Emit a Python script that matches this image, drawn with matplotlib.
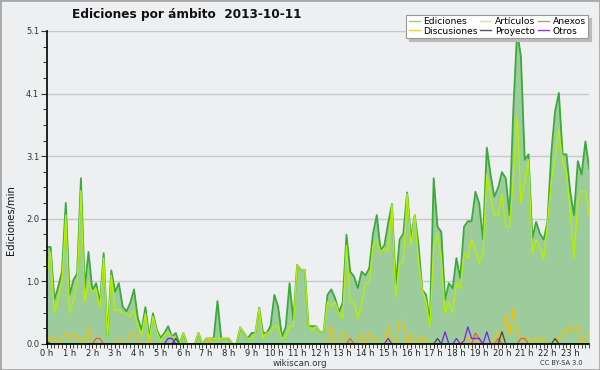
import numpy as np
import matplotlib
matplotlib.use("Agg")
import matplotlib.pyplot as plt
from matplotlib.lines import Line2D
from matplotlib.patches import Rectangle
from matplotlib.ticker import FixedLocator, MultipleLocator

# edits per minute, one value every 10 minutes (144 per day)
ediciones = [
    1.58, 1.58, 0.72, 0.93, 1.18, 2.30, 0.80, 1.04, 1.15, 2.70, 0.91, 1.50,
    0.88, 0.99, 0.67, 1.48, 0.11, 1.20, 0.85, 0.99, 0.61, 0.53, 0.67, 0.89,
    0.42, 0.23, 0.60, 0.11, 0.50, 0.23, 0.10, 0.18, 0.29, 0.12, 0.18, 0.00,
    0.18, 0.00, 0.00, 0.00, 0.18, 0.00, 0.09, 0.09, 0.09, 0.70, 0.09, 0.09,
    0.09, 0.00, 0.00, 0.27, 0.18, 0.09, 0.18, 0.18, 0.59, 0.18, 0.18, 0.30,
    0.80, 0.60, 0.12, 0.28, 0.99, 0.39, 1.29, 1.21, 1.21, 0.29, 0.29, 0.29,
    0.20, 0.20, 0.80, 0.89, 0.75, 0.52, 0.67, 1.78, 1.18, 1.10, 0.91, 1.18,
    1.12, 1.23, 1.80, 2.10, 1.53, 1.61, 1.97, 2.28, 0.95, 1.70, 1.80, 2.47,
    1.72, 2.10, 1.61, 0.88, 0.80, 0.34, 2.70, 1.91, 1.83, 0.72, 0.99, 0.91,
    1.40, 1.07, 1.91, 2.00, 2.00, 2.48, 2.29, 1.70, 3.20, 2.76, 2.40, 2.55,
    2.80, 2.70, 2.10, 3.82, 5.10, 4.68, 3.00, 3.09, 1.72, 1.99, 1.80, 1.70,
    1.99, 3.11, 3.79, 4.09, 3.09, 3.09, 2.48, 2.10, 2.98, 2.76, 3.30, 2.86,
]
articulos = [
    1.10, 1.50, 0.50, 0.75, 1.00, 2.10, 0.50, 0.70, 1.00, 2.50, 0.70, 1.00,
    0.85, 0.90, 0.59, 1.40, 0.10, 1.12, 0.55, 0.55, 0.50, 0.50, 0.45, 0.55,
    0.30, 0.15, 0.50, 0.05, 0.45, 0.20, 0.05, 0.15, 0.20, 0.12, 0.09, 0.00,
    0.18, 0.00, 0.00, 0.00, 0.18, 0.00, 0.09, 0.09, 0.09, 0.09, 0.09, 0.09,
    0.09, 0.00, 0.00, 0.27, 0.18, 0.09, 0.09, 0.18, 0.58, 0.09, 0.18, 0.20,
    0.29, 0.29, 0.09, 0.12, 0.29, 0.29, 1.29, 1.21, 1.21, 0.29, 0.23, 0.29,
    0.20, 0.20, 0.69, 0.61, 0.69, 0.50, 0.42, 1.61, 0.69, 0.69, 0.42, 0.66,
    0.99, 0.99, 1.60, 1.70, 1.50, 1.56, 1.51, 2.27, 0.77, 1.32, 1.32, 2.45,
    1.61, 2.10, 1.37, 0.88, 0.69, 0.29, 1.59, 1.78, 1.40, 0.50, 0.69, 0.50,
    0.99, 0.91, 1.48, 1.40, 1.70, 1.53, 1.32, 1.48, 2.76, 2.40, 2.10, 2.10,
    2.45, 1.91, 1.91, 2.70, 3.71, 2.29, 2.65, 3.00, 1.48, 1.70, 1.56, 1.40,
    1.97, 2.65, 3.03, 3.49, 2.97, 2.78, 2.16, 1.40, 2.32, 2.49, 2.49, 2.10,
]
discusiones = [
    0.09, 0.09, 0.09, 0.00, 0.09, 0.18, 0.09, 0.18, 0.09, 0.09, 0.00, 0.29,
    0.00, 0.00, 0.00, 0.00, 0.00, 0.00, 0.00, 0.09, 0.00, 0.00, 0.18, 0.18,
    0.09, 0.00, 0.00, 0.09, 0.00, 0.00, 0.00, 0.00, 0.00, 0.00, 0.00, 0.00,
    0.00, 0.00, 0.00, 0.00, 0.00, 0.00, 0.00, 0.09, 0.00, 0.00, 0.00, 0.00,
    0.00, 0.00, 0.00, 0.00, 0.00, 0.00, 0.00, 0.00, 0.00, 0.00, 0.00, 0.00,
    0.00, 0.00, 0.00, 0.00, 0.00, 0.00, 0.00, 0.00, 0.00, 0.00, 0.00, 0.00,
    0.00, 0.00, 0.00, 0.29, 0.00, 0.00, 0.20, 0.12, 0.00, 0.00, 0.00, 0.18,
    0.00, 0.18, 0.09, 0.09, 0.00, 0.00, 0.29, 0.00, 0.00, 0.40, 0.40, 0.00,
    0.18, 0.00, 0.09, 0.09, 0.09, 0.00, 0.00, 0.00, 0.00, 0.00, 0.00, 0.00,
    0.00, 0.00, 0.09, 0.09, 0.09, 0.09, 0.00, 0.00, 0.00, 0.00, 0.09, 0.20,
    0.09, 0.50, 0.15, 0.60, 0.18, 0.09, 0.09, 0.09, 0.00, 0.09, 0.09, 0.09,
    0.00, 0.00, 0.09, 0.09, 0.18, 0.29, 0.18, 0.29, 0.29, 0.00, 0.09, 0.18,
]
anexos = [
    0.00, 0.00, 0.00, 0.00, 0.00, 0.00, 0.00, 0.00, 0.00, 0.00, 0.00, 0.00,
    0.00, 0.09, 0.09, 0.00, 0.00, 0.00, 0.00, 0.00, 0.00, 0.00, 0.00, 0.00,
    0.00, 0.00, 0.00, 0.00, 0.00, 0.00, 0.00, 0.00, 0.00, 0.00, 0.00, 0.00,
    0.00, 0.00, 0.00, 0.00, 0.00, 0.00, 0.00, 0.00, 0.00, 0.00, 0.00, 0.00,
    0.00, 0.00, 0.00, 0.00, 0.00, 0.00, 0.00, 0.00, 0.00, 0.00, 0.00, 0.00,
    0.00, 0.00, 0.00, 0.00, 0.00, 0.00, 0.00, 0.00, 0.00, 0.00, 0.00, 0.00,
    0.00, 0.00, 0.00, 0.00, 0.00, 0.00, 0.00, 0.00, 0.09, 0.00, 0.00, 0.00,
    0.00, 0.00, 0.00, 0.00, 0.00, 0.00, 0.00, 0.00, 0.00, 0.00, 0.00, 0.00,
    0.00, 0.00, 0.00, 0.00, 0.00, 0.00, 0.00, 0.00, 0.00, 0.00, 0.00, 0.00,
    0.00, 0.00, 0.00, 0.00, 0.00, 0.18, 0.09, 0.00, 0.00, 0.00, 0.00, 0.09,
    0.00, 0.00, 0.00, 0.00, 0.00, 0.09, 0.09, 0.00, 0.00, 0.00, 0.00, 0.00,
    0.00, 0.00, 0.00, 0.00, 0.00, 0.00, 0.00, 0.00, 0.00, 0.00, 0.00, 0.00,
]
proyecto = [
    0.04, 0.00, 0.00, 0.00, 0.00, 0.00, 0.00, 0.00, 0.00, 0.00, 0.00, 0.00,
    0.00, 0.00, 0.00, 0.00, 0.00, 0.00, 0.00, 0.00, 0.00, 0.00, 0.00, 0.00,
    0.00, 0.00, 0.00, 0.00, 0.00, 0.00, 0.00, 0.00, 0.00, 0.00, 0.09, 0.00,
    0.00, 0.00, 0.00, 0.00, 0.00, 0.00, 0.00, 0.00, 0.00, 0.00, 0.00, 0.00,
    0.00, 0.00, 0.00, 0.00, 0.00, 0.00, 0.00, 0.00, 0.00, 0.00, 0.00, 0.00,
    0.00, 0.00, 0.00, 0.00, 0.00, 0.00, 0.00, 0.00, 0.00, 0.00, 0.00, 0.00,
    0.00, 0.00, 0.00, 0.00, 0.00, 0.00, 0.00, 0.00, 0.00, 0.00, 0.00, 0.00,
    0.00, 0.00, 0.00, 0.00, 0.00, 0.00, 0.00, 0.00, 0.00, 0.00, 0.00, 0.00,
    0.00, 0.00, 0.00, 0.00, 0.00, 0.00, 0.00, 0.09, 0.00, 0.00, 0.00, 0.00,
    0.00, 0.00, 0.00, 0.00, 0.00, 0.00, 0.00, 0.00, 0.00, 0.00, 0.00, 0.00,
    0.20, 0.00, 0.00, 0.00, 0.00, 0.00, 0.00, 0.00, 0.00, 0.00, 0.00, 0.00,
    0.00, 0.00, 0.09, 0.00, 0.00, 0.00, 0.00, 0.00, 0.00, 0.00, 0.00, 0.00,
]
otros = [
    0.00, 0.00, 0.00, 0.00, 0.00, 0.00, 0.00, 0.00, 0.00, 0.00, 0.00, 0.00,
    0.00, 0.00, 0.00, 0.00, 0.00, 0.00, 0.00, 0.00, 0.00, 0.00, 0.00, 0.00,
    0.00, 0.00, 0.00, 0.00, 0.00, 0.00, 0.00, 0.00, 0.09, 0.09, 0.00, 0.00,
    0.00, 0.00, 0.00, 0.00, 0.00, 0.00, 0.00, 0.00, 0.00, 0.00, 0.00, 0.00,
    0.00, 0.00, 0.00, 0.00, 0.00, 0.00, 0.00, 0.00, 0.00, 0.00, 0.00, 0.00,
    0.00, 0.00, 0.00, 0.00, 0.00, 0.00, 0.00, 0.00, 0.00, 0.00, 0.00, 0.00,
    0.00, 0.00, 0.00, 0.00, 0.00, 0.00, 0.00, 0.00, 0.00, 0.00, 0.00, 0.00,
    0.00, 0.00, 0.00, 0.00, 0.00, 0.00, 0.09, 0.00, 0.00, 0.00, 0.00, 0.00,
    0.00, 0.00, 0.00, 0.00, 0.00, 0.00, 0.00, 0.00, 0.00, 0.20, 0.00, 0.00,
    0.09, 0.00, 0.05, 0.28, 0.09, 0.09, 0.09, 0.00, 0.20, 0.00, 0.00, 0.00,
    0.00, 0.00, 0.00, 0.00, 0.00, 0.00, 0.00, 0.00, 0.00, 0.00, 0.00, 0.00,
    0.00, 0.00, 0.00, 0.00, 0.00, 0.00, 0.00, 0.00, 0.00, 0.00, 0.00, 0.00,
]
hour_labels = ["0 h", "1 h", "2 h", "3 h", "4 h", "5 h", "6 h", "7 h",
               "8 h", "9 h", "10 h", "11 h", "12 h", "13 h", "14 h", "15 h",
               "16 h", "17 h", "18 h", "19 h", "20 h", "21 h", "22 h", "23 h"]
ymax = 5.1

bg = "#eeeff1"
x = np.arange(len(ediciones))

fig = plt.figure(figsize=(6, 3.7), dpi=100, facecolor=bg)
ax = fig.add_axes([0.078, 0.0703, 0.904, 0.846])
ax.set_facecolor(bg)

ax.fill_between(x, 0, ediciones, color="#9ccb9c", lw=0)
ax.plot(x, ediciones, color="#3aaa3a", lw=1.3)
ax.plot(x, articulos, color="#b4f000", lw=1.0)
ax.plot(x, discusiones, color="#f2c200", lw=0.9)
ax.plot(x, anexos, color="#ee6020", lw=0.9)
ax.plot(x, proyecto, color="#444444", lw=0.9)
ax.plot(x, otros, color="#7a22ee", lw=0.9)

ax.set_xlim(0, len(x) - 1)
ax.set_ylim(0, ymax)

yt = np.linspace(0, ymax, 6)
ax.yaxis.set_major_locator(FixedLocator(yt))
ax.yaxis.set_minor_locator(FixedLocator(np.linspace(0, ymax, 21)))
ax.set_yticklabels(["%.1f" % v for v in yt])
ax.grid(axis="y", which="major", color="#c8c8c8", lw=1)
ax.set_axisbelow(True)

ax.set_xticks(np.arange(0, len(x), 6))
ax.set_xticklabels(hour_labels)
ax.xaxis.set_minor_locator(MultipleLocator(1))

ax.tick_params(axis="y", which="major", labelsize=6, colors="#333333",
               length=4, width=0.8, pad=1.5)
ax.tick_params(axis="y", which="minor", length=3, width=0.6)
ax.tick_params(axis="x", which="major", labelsize=6, colors="#222222",
               length=3, width=0.7, pad=0.5)
ax.tick_params(axis="x", which="minor", length=3, width=0.5)
for s in ["top", "right"]:
    ax.spines[s].set_visible(False)
for s in ["left", "bottom"]:
    ax.spines[s].set_color("black")
    ax.spines[s].set_linewidth(1.2)

fig.text(0.312, 0.962, "Ediciones por ámbito  2013-10-11", ha="center",
         va="center", fontsize=8.7, fontweight="bold", color="#111111")
fig.text(0.018, 0.405, "Ediciones/min", rotation=90, ha="center",
         va="center", fontsize=7.2, color="#111111")
fig.text(0.5, 0.018, "wikiscan.org", ha="center", va="center",
         fontsize=6.3, color="#333333")
fig.text(0.935, 0.018, "CC BY-SA 3.0", ha="center", va="center",
         fontsize=4.8, color="#333333")

handles = [
    Line2D([], [], color="#8fd08f", lw=1),
    Line2D([], [], color="#f5d040", lw=1),
    Line2D([], [], color="#d0f070", lw=1),
    Line2D([], [], color="#555555", lw=1),
    Line2D([], [], color="#f08850", lw=1),
    Line2D([], [], color="#9040e0", lw=1),
]
labels = ["Ediciones", "Discusiones", "Artículos", "Proyecto", "Anexos", "Otros"]
leg = fig.legend(handles, labels, ncol=3, loc="upper right",
                 bbox_to_anchor=(0.988, 0.972), fontsize=6.6,
                 handlelength=1.2, handletextpad=0.4, columnspacing=0.3,
                 labelspacing=0.05, borderpad=0.25, fancybox=False,
                 shadow={"color": "#bbbbbb", "alpha": 1}, framealpha=1,
                 edgecolor="#999999", facecolor="white")
leg.get_frame().set_linewidth(0.8)

fig.patches.append(Rectangle((0, 0), 1, 1, transform=fig.transFigure,
                             fill=False, edgecolor="#a8a8a8", lw=2))

fig.savefig("out.png", dpi=100, facecolor=bg)
